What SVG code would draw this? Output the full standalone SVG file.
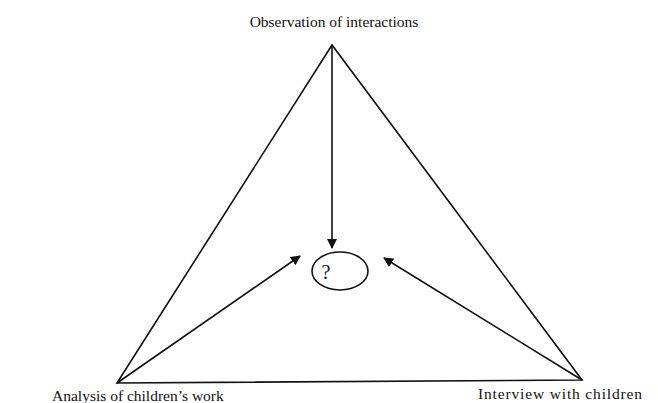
<svg xmlns="http://www.w3.org/2000/svg" width="658" height="403" viewBox="0 0 658 403">
<style>
.t{font-family:"Liberation Serif","Times New Roman",serif;font-size:15.5px;fill:#111}
.q{font-family:"Liberation Serif","Times New Roman",serif;font-size:20px;fill:#111}
.l{stroke:#111;stroke-width:1.6;fill:none}
.a{stroke:#111;stroke-width:1.6;fill:none;marker-end:url(#ah)}
</style>
<defs>
<marker id="ah" viewBox="0 0 10 10" refX="9" refY="5" markerWidth="10" markerHeight="10" markerUnits="userSpaceOnUse" orient="auto">
<path d="M0,0 L10,5 L0,10 z" fill="#111"/>
</marker>
</defs>
<rect width="658" height="403" fill="#fff"/>
<g id="triangle">
<path class="l" d="M332,45 L117,383 L582,380 Z"/>
</g>
<g id="center">
<ellipse class="l" cx="340" cy="271" rx="28" ry="19"/>
<text class="q" x="326" y="279" text-anchor="middle">?</text>
</g>
<g id="top"><text class="t" x="334" y="27" text-anchor="middle">Observation of interactions</text></g>
<g id="left"><text class="t" x="52" y="401">Analysis of children’s work</text></g>
<g id="right"><text class="t" x="478" y="399" textLength="164" lengthAdjust="spacing">Interview with children</text></g>
<g id="connectors">
<line class="a" x1="332" y1="45" x2="332" y2="248"/>
<line class="a" x1="117" y1="383" x2="300" y2="256"/>
<line class="a" x1="582" y1="380" x2="384" y2="258"/>
</g>
</svg>
